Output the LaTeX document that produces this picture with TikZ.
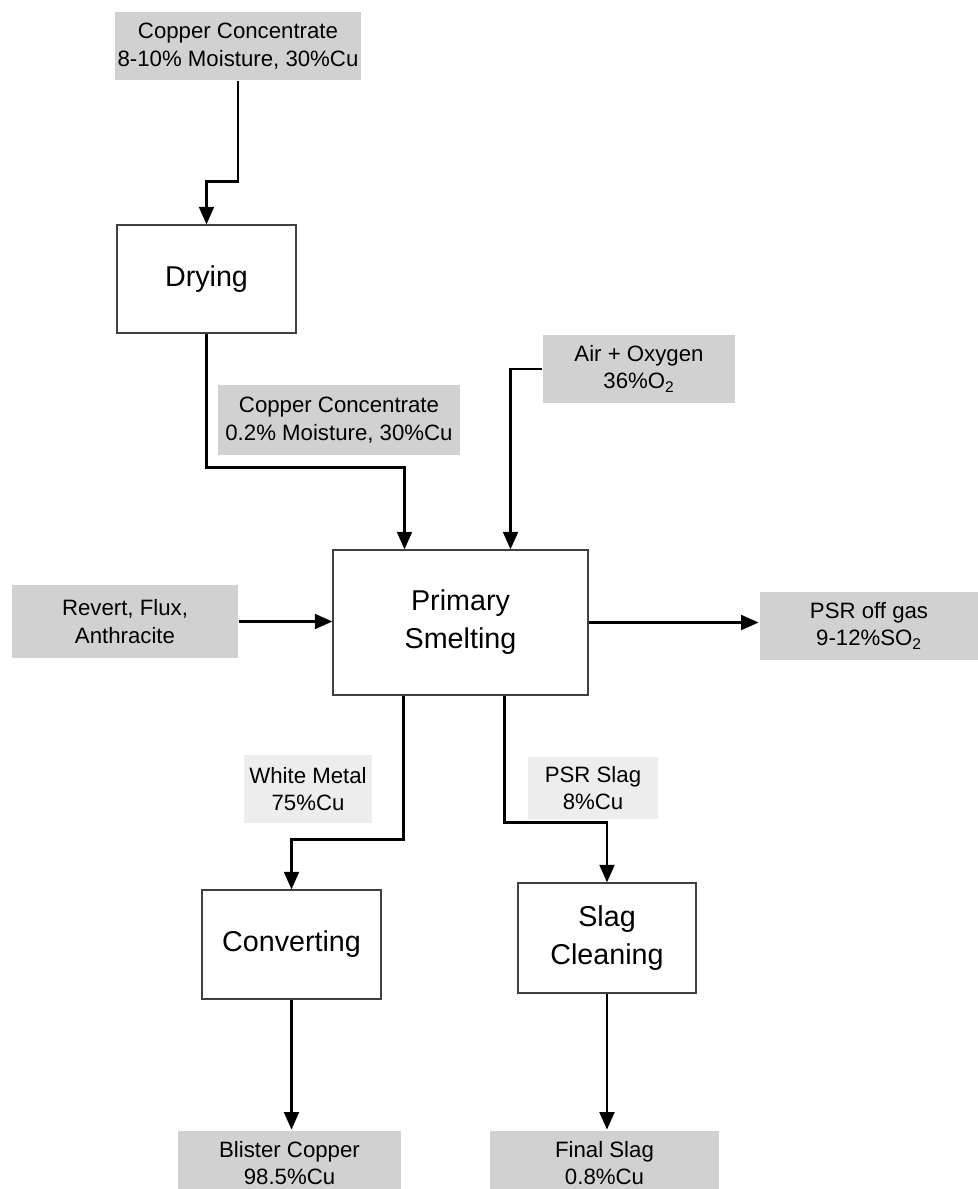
\documentclass[tikz,border=0pt]{standalone}
\usepackage{fontspec}
\setmainfont{Liberation Sans}
\usetikzlibrary{calc}
\usetikzlibrary{arrows.meta}
\tikzset{
  every picture/.style={
    line width=1.9pt,
    >={Triangle[width=10.5pt, length=12.5pt]}
  },
  process/.style={
    draw=black!75, line width=0.8pt, fill=white,
    align=center, inner sep=0pt,
    font=\fontsize{20.4}{27}\selectfont
  },
  stream/.style={
    fill=black!18, align=center, inner sep=0pt,
    font=\fontsize{15.8}{19.5}\selectfont
  },
  faint stream/.style={
    stream, fill=black!7
  }
}

\begin{document}
\begin{tikzpicture}[x=0.025cm, y=-0.025cm]
      \useasboundingbox (0,0) rectangle (978,1189);
      % process units
      \node[process, minimum width=4.475cm, minimum height=2.7cm] (drying) at (206.5,279) {Drying};
      \node[process, minimum width=6.375cm, minimum height=3.625cm] (primary) at (460.5,622.5) {Primary\\Smelting};
      \node[process, minimum width=4.475cm, minimum height=2.725cm] (converting) at (291.5,944.5) {Converting};
      \node[process, minimum width=4.45cm, minimum height=2.75cm] (slagclean) at (607,938) {Slag\\Cleaning};
      % streams
      \node[stream, minimum width=6.125cm, minimum height=1.7cm] (feed) at (238,46) {Copper Concentrate\\8-10\% Moisture, 30\%Cu};
      \node[stream, minimum width=6.05cm, minimum height=1.75cm] (dryconc) at (339,420) {Copper Concentrate\\0.2\% Moisture, 30\%Cu};
      \node[stream, minimum width=4.8cm, minimum height=1.7cm] (air) at (639,369) {Air + Oxygen\\36\%O\textsubscript{2}};
      \node[stream, minimum width=5.65cm, minimum height=1.825cm] (revert) at (125,621.5) {Revert, Flux,\\Anthracite};
      \node[stream, minimum width=5.45cm, minimum height=1.7cm] (offgas) at (869,626) {PSR off gas\\9-12\%SO\textsubscript{2}};
      \node[faint stream, minimum width=3.175cm, minimum height=1.675cm] (whitemetal) at (308,789) {White Metal\\75\%Cu};
      \node[faint stream, minimum width=3.25cm, minimum height=1.55cm] (psrslag) at (593,788) {PSR Slag\\8\%Cu};
      \node[stream, minimum width=5.575cm, minimum height=1.6cm] (blister) at (289.5,1163) {Blister Copper\\98.5\%Cu};
      \node[stream, minimum width=5.725cm, minimum height=1.6cm] (finalslag) at (604.5,1163) {Final Slag\\0.8\%Cu};
      % flows
      \draw[->] (feed.south) -- ++(0,100) -| (drying.north);
      \draw[->] (drying.south) -- ++(0,134) -| ($(primary.north)+(-56,0)$);
      \draw[->] (air.west) -| ($(primary.north)+(50,0)$);
      \draw[->] (revert.east) -- (revert.east -| primary.west);
      \draw[->] (primary.east) -- (primary.east -| offgas.west);
      \draw[->] ($(primary.south)+(-57,0)$) -- ++(0,144) -| (converting.north);
      \draw[->] ($(primary.south)+(44,0)$) -- ++(0,127) -| (slagclean.north);
      \draw[->] (converting.south) -- (converting.south |- blister.north);
      \draw[->] (slagclean.south) -- (slagclean.south |- finalslag.north);
    \end{tikzpicture}
\end{document}
